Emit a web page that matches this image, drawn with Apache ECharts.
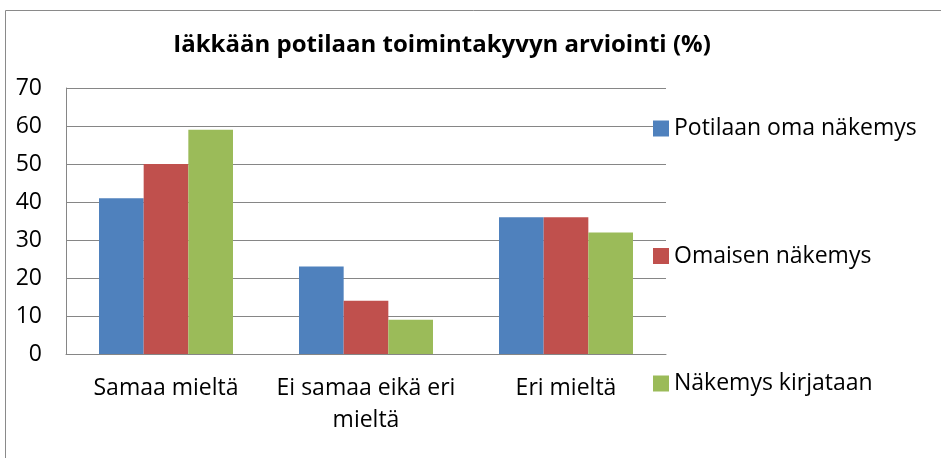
<!DOCTYPE html>
<html>
<head>
<meta charset="utf-8">
<script src="https://cdn.jsdelivr.net/npm/echarts@6/dist/echarts.min.js"></script>
<style>
  html, body { margin: 0; padding: 0; background: #fff; }
  #chart { width: 941px; height: 458px; }
</style>
</head>
<body>
<div id="chart"></div>
<script>
// kategoriat ja sarjat
const categories = ['Samaa mieltä', 'Ei samaa eikä eri\nmieltä', 'Eri mieltä']
const seriesNames = ['Potilaan oma näkemys', 'Omaisen näkemys', 'Näkemys kirjataan']
const potilas = [41, 23, 36]
const omainen = [50, 14, 36]
const kirjataan = [59, 9, 32]
const yTicks = [0, 10, 20, 30, 40, 50, 60, 70]

const colors = ['#4F81BD', '#C0504D', '#9BBB59']
const font = 'Open Sans'

const myChart = echarts.init(document.getElementById('chart'))

const option = {
  animation: false,
  color: colors,
  title: {
    text: 'Iäkkään potilaan toimintakyvyn arviointi (%)',
    left: 437,
    textAlign: 'center',
    top: 28,
    textStyle: { fontFamily: font, fontSize: 24, fontWeight: 'bold', color: '#000' }
  },
  graphic: [{
    type: 'rect',
    shape: { x: 5.5, y: 10.5, width: 1000, height: 1000 },
    style: { fill: 'none', stroke: '#8a8a8a', lineWidth: 1 },
    z: -1
  }],
  legend: {
    orient: 'vertical',
    left: 648,
    top: 112,
    itemWidth: 16,
    itemHeight: 16,
    itemGap: 104.5,
    icon: 'rect',
    textStyle: { fontFamily: font, fontSize: 23, color: '#000' },
    data: seriesNames
  },
  grid: { left: 66, right: 275, top: 88, bottom: 104 },
  xAxis: {
    type: 'category',
    data: categories,
    axisLine: { lineStyle: { color: '#868686', width: 1 } },
    axisTick: { show: false },
    axisLabel: {
      fontFamily: font, fontSize: 23, color: '#000',
      margin: 18, lineHeight: 32, interval: 0
    }
  },
  yAxis: {
    type: 'value',
    min: yTicks[0],
    max: yTicks[yTicks.length - 1],
    interval: 10,
    axisLine: { show: true, lineStyle: { color: '#868686', width: 1 } },
    axisTick: { show: false },
    splitLine: { lineStyle: { color: '#868686', width: 1 } },
    axisLabel: { fontFamily: font, fontSize: 23, color: '#000', margin: 24 }
  },
  series: [
    { name: seriesNames[0], type: 'bar', data: potilas, barGap: '0%', barCategoryGap: '33%' },
    { name: seriesNames[1], type: 'bar', data: omainen, barGap: '0%', barCategoryGap: '33%' },
    { name: seriesNames[2], type: 'bar', data: kirjataan, barGap: '0%', barCategoryGap: '33%' }
  ]
}

myChart.setOption(option)
</script>
</body>
</html>
